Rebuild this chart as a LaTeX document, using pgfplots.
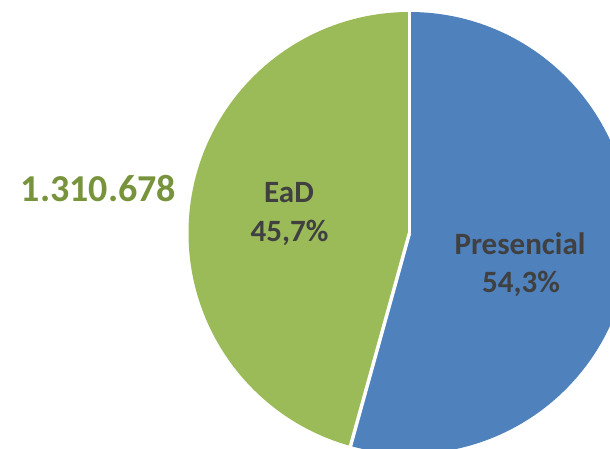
\documentclass[border=0pt]{standalone}
\usepackage{pgfplots}
\pgfplotsset{compat=1.18}
\usepackage{fontspec}
\setmainfont{Carlito}
\definecolor{pblue}{HTML}{4F81BD}
\definecolor{pgreen}{HTML}{9BBB59}
\definecolor{ptext}{HTML}{404040}
\definecolor{pnum}{HTML}{77933C}
% data (percent)
\def\valEaD{45.7}
\def\valPres{54.3}
\begin{document}
\begin{tikzpicture}[x=1bp,y=1bp]
\useasboundingbox (0,0) rectangle (610,449);
\clip (0,0) rectangle (610,449);
\begin{axis}[
  at={(0,0)}, anchor=south west,
  scale only axis, width=610bp, height=449bp,
  xmin=0, xmax=610, ymin=0, ymax=449, y dir=reverse,
  hide axis, clip=false,
]
\pgfmathsetmacro{\angEaD}{90+3.6*\valEaD}
\pgfmathsetmacro{\angPres}{90-3.6*\valPres}
% Presencial slice (clockwise from top)
\fill[pblue] (axis cs:409.5,233) -- ++(90:221bp) arc[start angle=90, end angle=\angPres, radius=221bp] -- cycle;
% EaD slice (counter-clockwise from top)
\fill[pgreen] (axis cs:409.5,233) -- ++(90:221bp) arc[start angle=90, end angle=\angEaD, radius=221bp] -- cycle;
% white separators
\draw[white, line width=3.5bp] (axis cs:409.5,233) -- ++(90:223bp);
\draw[white, line width=3.5bp] (axis cs:409.5,233) -- ++(\angEaD:223bp);
% labels
\node[anchor=base, text=ptext, font=\fontsize{31bp}{37bp}\selectfont\bfseries] at (axis cs:289,203) {EaD};
\node[anchor=base, text=ptext, font=\fontsize{31bp}{37bp}\selectfont\bfseries] at (axis cs:289.5,242) {45,7\%};
\node[anchor=base, text=ptext, font=\fontsize{31bp}{37bp}\selectfont\bfseries] at (axis cs:520,255) {Presencial};
\node[anchor=base, text=ptext, font=\fontsize{31bp}{37bp}\selectfont\bfseries] at (axis cs:521,293) {54,3\%};
\node[anchor=base, text=pnum, font=\fontsize{38bp}{44bp}\selectfont\bfseries] at (axis cs:98.5,202) {1.310.678};
\end{axis}
\end{tikzpicture}
\end{document}
